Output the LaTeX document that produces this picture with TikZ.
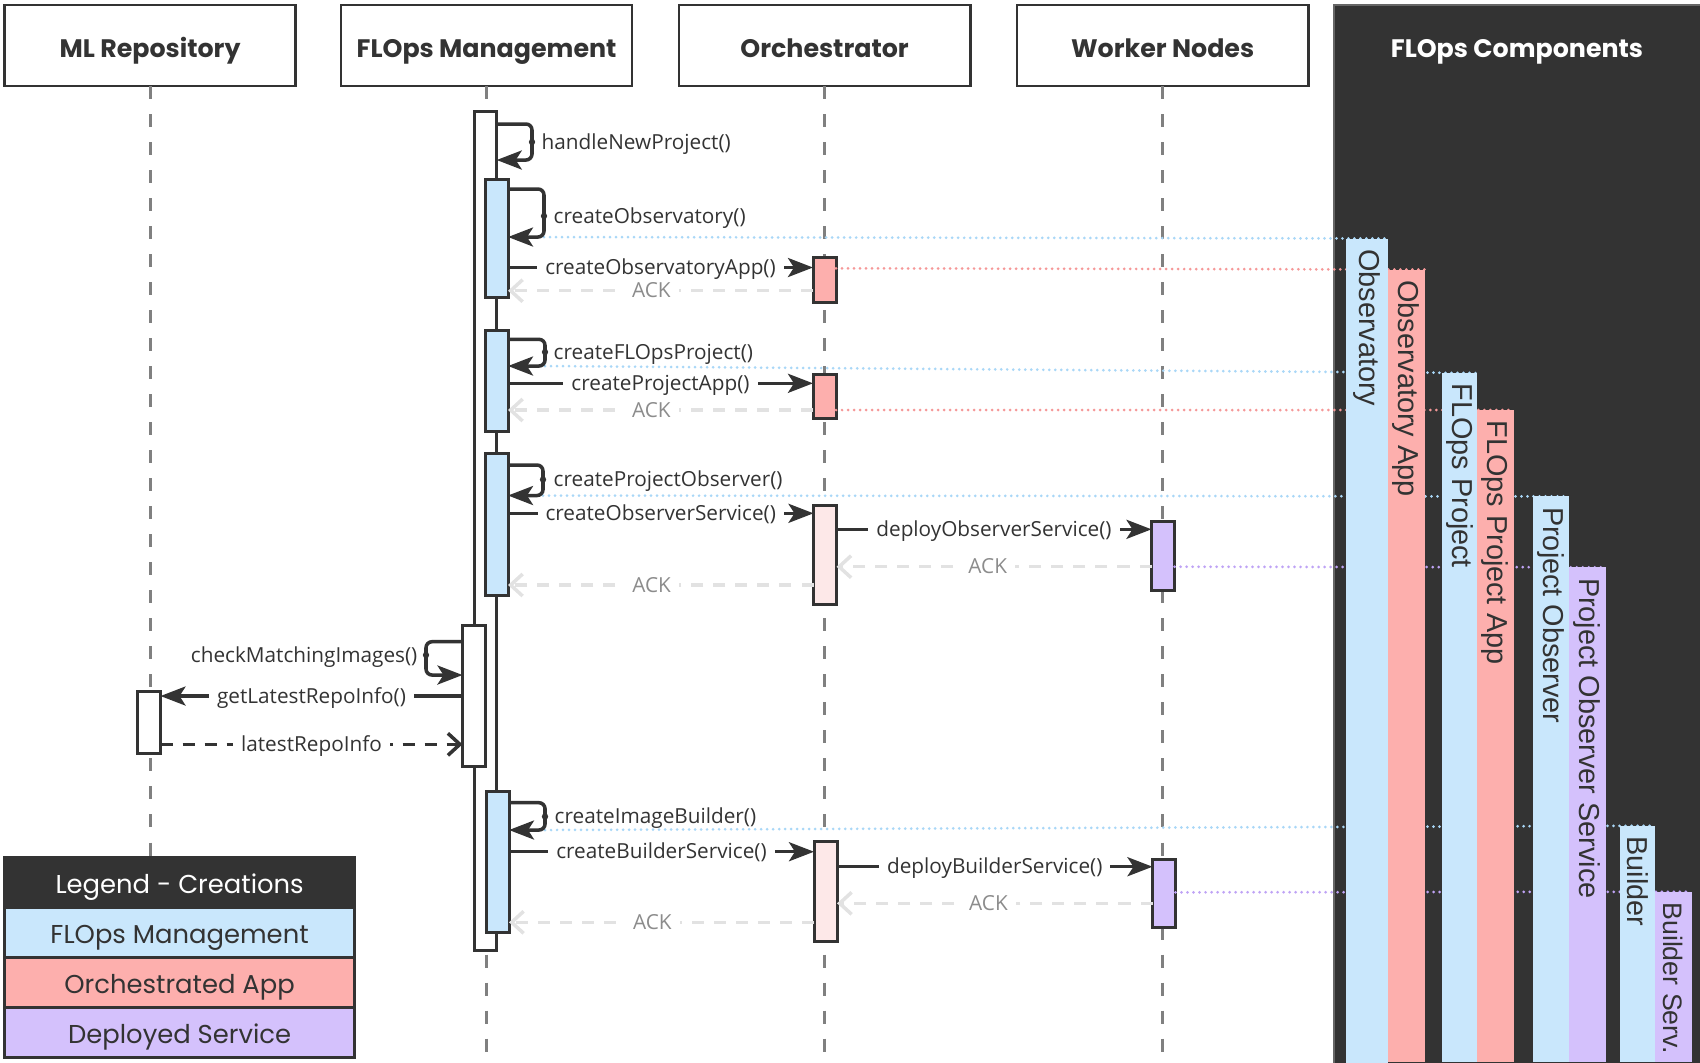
\documentclass[tikz,border=0pt]{standalone}
\usepackage{fontspec}
\setmainfont{Open Sans}
\newfontfamily\headfont{Poppins}
\newfontfamily\barfont{Liberation Sans}
\usetikzlibrary{arrows.meta,positioning}

\definecolor{ink}{HTML}{333333}
\definecolor{mgmtblue}{HTML}{C9E7FC}
\definecolor{appred}{HTML}{FDAFAD}
\definecolor{servpurple}{HTML}{D4C1FC}
\definecolor{orchpink}{HTML}{FDE8E8}
\definecolor{lifegray}{HTML}{808080}
\definecolor{ackgray}{HTML}{E2E2E2}
\definecolor{acktext}{HTML}{8C8C8C}
\definecolor{dotblue}{HTML}{A9D7F7}
\definecolor{dotred}{HTML}{F59898}
\definecolor{dotpurple}{HTML}{BFA3F5}

\tikzset{
  actor/.style={draw=ink, line width=0.75pt, fill=white, anchor=north west,
    minimum width=2.91cm, minimum height=0.81cm, inner sep=0pt, outer sep=0pt,
    text height=6.6pt, text depth=0pt,
    font=\headfont\bfseries\fontsize{7.2}{8}\selectfont, text=ink},
  lifeline/.style={draw=lifegray, line width=0.85pt, dash pattern=on 0.13cm off 0.15cm},
  act/.style={draw=ink, line width=0.85pt, anchor=north west, minimum width=0.225cm,
    inner sep=0pt, outer sep=0pt},
  call/.style={draw=ink, line width=1pt, -{Stealth[length=0.25cm,width=0.19cm,inset=0.06cm]}},
  reply/.style={draw=ink, line width=1pt, dash pattern=on 0.12cm off 0.1cm,
    -{Straight Barb[length=0.12cm,width=0.22cm]}},
  ack/.style={draw=ackgray, line width=1pt, dash pattern=on 0.12cm off 0.1cm,
    -{Straight Barb[length=0.12cm,width=0.22cm]}},
  msglabel/.style={fill=white, inner xsep=0.08cm, inner ysep=0.3pt, text=ink,
    text height=4.1pt, text depth=0pt, font=\fontsize{5.9}{7}\selectfont},
  selflabel/.style={inner sep=0pt, text=ink, text height=4.1pt, text depth=0pt,
    font=\fontsize{5.9}{7}\selectfont},
  acklabel/.style={fill=white, inner xsep=0.08cm, inner ysep=0.3pt, text=acktext,
    text height=4.1pt, text depth=0pt, font=\fontsize{5.9}{7}\selectfont},
  link/.style={line width=0.85pt, line cap=round, dash pattern=on 0pt off 0.06cm},
  bar/.style={anchor=north east, inner sep=0pt, outer sep=0pt},
  barlabel/.style={rotate=-90, anchor=west, inner sep=0pt, text=ink,
    font=\barfont\fontsize{8.2}{9}\selectfont},
  legendrow/.style={draw=ink, line width=0.85pt, minimum width=3.5cm, minimum height=0.5cm,
    inner sep=0pt, outer sep=0pt, text=ink, text height=6.4pt, text depth=0pt,
    font=\headfont\fontsize{7.35}{8}\selectfont},
}

\begin{document}
\begin{tikzpicture}[x=0.01cm, y=-0.01cm]
\useasboundingbox (0,0) rectangle (1700,1062);

% Drawing the FLOps Components panel
\node [fill=ink, draw=black!60, line width=0.4pt, anchor=north west, minimum width=3.66cm,
  minimum height=10.6cm, inner sep=0pt, outer sep=0pt] (panel) at (1334.0,5.0) {};%
\node [font=\headfont\bfseries\fontsize{7.2}{8}\selectfont, text=white,
  text height=6.6pt, text depth=0pt] (paneltitle) at (1517.0,45.5) {FLOps Components};%

% Drawing the participants
\node [actor] (mlrepo) at (4.5,5.0) {ML Repository};%
\node [actor] (mgmt) at (341.0,5.0) {FLOps Management};%
\node [actor] (orch) at (679.0,5.0) {Orchestrator};%
\node [actor] (worker) at (1017.0,5.0) {Worker Nodes};%

% Drawing the lifelines
\draw [lifeline] (mlrepo.south) -- (mlrepo.south |- 0,1062.0);%
\draw [lifeline] (mgmt.south) -- (mgmt.south |- 0,1062.0);%
\draw [lifeline] (orch.south) -- (orch.south |- 0,1062.0);%
\draw [lifeline] (worker.south) -- (worker.south |- 0,1062.0);%

% Marking the tops of the component bars
\coordinate (obsbartop) at (1388.0,238.5);%
\coordinate (obsappbartop) at (1424.5,269.5);%
\coordinate (projbartop) at (1477.0,373.0);%
\coordinate (projappbartop) at (1513.5,410.0);%
\coordinate (pobsbartop) at (1569.0,496.4);%
\coordinate (pobsservbartop) at (1605.5,567.3);%
\coordinate (buildbartop) at (1655.0,825.7);%
\coordinate (buildservbartop) at (1691.5,891.7);%

% Drawing activation boxes
\node [act, fill=white, minimum width=0.227cm, minimum height=8.383cm] (mgmtmain) at (474.0,111.7) {};%
\node [act, fill=mgmtblue, minimum height=1.18cm] (mgmtobs) at (485.5,179.0) {};%
\node [act, fill=mgmtblue, minimum height=1.008cm] (mgmtproj) at (485.5,330.7) {};%
\node [act, fill=mgmtblue, minimum height=1.415cm] (mgmtpobs) at (485.5,453.5) {};%
\node [act, fill=white, minimum height=1.41cm] (mgmtcheck) at (462.5,625.0) {};%
\node [act, fill=mgmtblue, minimum height=1.415cm] (mgmtbuild) at (486.5,791.0) {};%
\node [act, fill=appred, minimum width=0.23cm, minimum height=0.443cm] (orchobsapp) at (813.0,257.7) {};%
\node [act, fill=appred, minimum width=0.23cm, minimum height=0.443cm] (orchprojapp) at (813.0,374.0) {};%
\node [act, fill=orchpink, minimum width=0.23cm, minimum height=0.993cm] (orchpobs) at (813.5,505.0) {};%
\node [act, fill=orchpink, minimum width=0.23cm, minimum height=1.0cm] (orchbuild) at (814.0,841.7) {};%
\node [act, fill=servpurple, minimum width=0.23cm, minimum height=0.683cm] (workpobs) at (1151.5,521.7) {};%
\node [act, fill=servpurple, minimum width=0.23cm, minimum height=0.683cm] (workbuild) at (1152.5,859.0) {};%
\node [act, fill=white, minimum width=0.23cm, minimum height=0.623cm] (mlinfo) at (137.5,691.0) {};%

% Drawing handleNewProject()
\draw [call, rounded corners=0.06cm] (mgmtmain.east |- 0,124.0) -- (532.0,124.0) -- (532.0,160.0) -- (mgmtmain.east |- 0,160.0);%
\fill [ink] (532.0,142.0) circle (0.9pt);%
\node [selflabel, anchor=west] (lblhandle) at (541.0,142.0) {handleNewProject()};%

% Drawing createObservatory()
\coordinate (obsloop) at (544.0,237.0);%
\draw [link, dotblue] (obsloop) -- (obsbartop);%
\draw [call, rounded corners=0.06cm] (mgmtobs.east |- 0,189.0) -- (544.0,189.0) -- (obsloop) -- (mgmtobs.east |- obsloop);%
\fill [ink] (544.0,216.0) circle (0.9pt);%
\node [selflabel, anchor=west] (lblobs) at (553.0,216.0) {createObservatory()};%

% Drawing createObservatoryApp() and its ACK
\draw [link, dotred] (orchobsapp.east |- 0,268.3) -- (obsappbartop);%
\draw [call] (mgmtobs.east |- 0,267.5) -- node [msglabel] (lblobsapp) {createObservatoryApp()} (orchobsapp.west |- 0,267.5);%
\draw [ack] (orchobsapp.west |- 0,290.7) -- node [acklabel, pos=0.53] (ackobsapp) {ACK} (mgmtobs.east |- 0,290.7);%

% Drawing createFLOpsProject()
\coordinate (projloop) at (545.0,366.0);%
\draw [link, dotblue] (projloop) -- (projbartop);%
\draw [call, rounded corners=0.06cm] (mgmtproj.east |- 0,339.3) -- (545.0,339.3) -- (projloop) -- (mgmtproj.east |- projloop);%
\fill [ink] (545.0,352.0) circle (0.9pt);%
\node [selflabel, anchor=west] (lblproj) at (553.0,352.0) {createFLOpsProject()};%

% Drawing createProjectApp() and its ACK
\draw [link, dotred] (orchprojapp.east |- 0,410.0) -- (projappbartop);%
\draw [call] (mgmtproj.east |- 0,383.3) -- node [msglabel] (lblprojapp) {createProjectApp()} (orchprojapp.west |- 0,383.3);%
\draw [ack] (orchprojapp.west |- 0,410.0) -- node [acklabel, pos=0.53] (ackprojapp) {ACK} (mgmtproj.east |- 0,410.0);%

% Drawing createProjectObserver()
\coordinate (pobsloop) at (543.0,495.5);%
\draw [link, dotblue] (pobsloop) -- (pobsbartop);%
\draw [call, rounded corners=0.06cm] (mgmtpobs.east |- 0,465.0) -- (543.0,465.0) -- (pobsloop) -- (mgmtpobs.east |- pobsloop);%
\fill [ink] (543.0,479.5) circle (0.9pt);%
\node [selflabel, anchor=west] (lblpobs) at (553.0,479.5) {createProjectObserver()};%

% Drawing createObserverService() and deployObserverService()
\draw [call] (mgmtpobs.east |- 0,513.3) -- node [msglabel] (lblpobsserv) {createObserverService()} (orchpobs.west |- 0,513.3);%
\draw [call] (orchpobs.east |- 0,529.3) -- node [msglabel] (lbldeploypobs) {deployObserverService()} (workpobs.west |- 0,529.3);%
\draw [link, dotpurple] (workpobs.east |- 0,566.7) -- (pobsservbartop);%
\draw [ack] (workpobs.west |- 0,566.7) -- node [acklabel, pos=0.52] (ackdeploypobs) {ACK} (orchpobs.east |- 0,566.7);%
\draw [ack] (orchpobs.west |- 0,585.0) -- node [acklabel, pos=0.53] (ackpobsserv) {ACK} (mgmtpobs.east |- 0,585.0);%

% Drawing checkMatchingImages()
\draw [call, rounded corners=0.06cm] (mgmtcheck.west |- 0,641.7) -- (426.0,641.7) -- (426.0,675.0) -- (mgmtcheck.west |- 0,675.0);%
\fill [ink] (426.0,655.0) circle (0.9pt);%
\node [selflabel, anchor=east] (lblcheck) at (418.0,655.0) {checkMatchingImages()};%

% Drawing getLatestRepoInfo() and latestRepoInfo
\draw [call] (mgmtcheck.west |- 0,696.0) -- node [msglabel] (lblgetrepo) {getLatestRepoInfo()} (mlinfo.east |- 0,696.0);%
\draw [reply] (mlinfo.east |- 0,744.3) -- node [msglabel, pos=0.5] (lblrepo) {latestRepoInfo} (mgmtcheck.west |- 0,744.3);%

% Drawing createImageBuilder()
\coordinate (buildloop) at (545.0,830.0);%
\draw [link, dotblue] (buildloop) -- (buildbartop);%
\draw [call, rounded corners=0.06cm] (mgmtbuild.east |- 0,802.7) -- (545.0,802.7) -- (buildloop) -- (mgmtbuild.east |- buildloop);%
\fill [ink] (545.0,816.5) circle (0.9pt);%
\node [selflabel, anchor=west] (lblbuild) at (554.0,816.5) {createImageBuilder()};%

% Drawing createBuilderService() and deployBuilderService()
\draw [call] (mgmtbuild.east |- 0,851.7) -- node [msglabel] (lblbuildserv) {createBuilderService()} (orchbuild.west |- 0,851.7);%
\draw [call] (orchbuild.east |- 0,866.7) -- node [msglabel] (lbldeploybuild) {deployBuilderService()} (workbuild.west |- 0,866.7);%
\draw [link, dotpurple] (workbuild.east |- 0,892.3) -- (buildservbartop);%
\draw [ack] (workbuild.west |- 0,903.3) -- node [acklabel, pos=0.52] (ackdeploybuild) {ACK} (orchbuild.east |- 0,903.3);%
\draw [ack] (orchbuild.west |- 0,922.3) -- node [acklabel, pos=0.53] (ackbuildserv) {ACK} (mgmtbuild.east |- 0,922.3);%

% Drawing the component bars
\node [bar, fill=mgmtblue, minimum width=0.42cm, minimum height=8.235cm] (obsbar) at (obsbartop) {};%
\node [barlabel] (obsbarlabel) at ([yshift=-0.1cm]obsbar.north) {Observatory};%
\node [bar, fill=appred, minimum width=0.365cm, minimum height=7.925cm] (obsappbar) at (obsappbartop) {};%
\node [barlabel] (obsappbarlabel) at ([yshift=-0.1cm]obsappbar.north) {Observatory App};%
\node [bar, fill=mgmtblue, minimum width=0.35cm, minimum height=6.89cm] (projbar) at (projbartop) {};%
\node [barlabel] (projbarlabel) at ([yshift=-0.1cm]projbar.north) {FLOps Project};%
\node [bar, fill=appred, minimum width=0.365cm, minimum height=6.52cm] (projappbar) at (projappbartop) {};%
\node [barlabel] (projappbarlabel) at ([yshift=-0.1cm]projappbar.north) {FLOps Project App};%
\node [bar, fill=mgmtblue, minimum width=0.36cm, minimum height=5.656cm] (pobsbar) at (pobsbartop) {};%
\node [barlabel] (pobsbarlabel) at ([yshift=-0.1cm]pobsbar.north) {Project Observer};%
\node [bar, fill=servpurple, minimum width=0.365cm, minimum height=4.947cm] (pobsservbar) at (pobsservbartop) {};%
\node [barlabel] (pobsservbarlabel) at ([yshift=-0.1cm]pobsservbar.north) {Project Observer Service};%
\node [bar, fill=mgmtblue, minimum width=0.35cm, minimum height=2.363cm] (buildbar) at (buildbartop) {};%
\node [barlabel] (buildbarlabel) at ([yshift=-0.1cm]buildbar.north) {Builder};%
\node [bar, fill=servpurple, minimum width=0.365cm, minimum height=1.703cm] (buildservbar) at (buildservbartop) {};%
\node [barlabel, font=\barfont\fontsize{7.6}{9}\selectfont] (buildservbarlabel) at ([yshift=-0.1cm]buildservbar.north) {Builder Serv.};%

% Drawing the legend
\node [legendrow, fill=ink, text=white, anchor=north west] (legtitle) at (4.5,857.5) {Legend - Creations};%
\node [legendrow, fill=mgmtblue, below=0pt of legtitle] (legmgmt) {FLOps Management};%
\node [legendrow, fill=appred, below=0pt of legmgmt] (legapp) {Orchestrated App};%
\node [legendrow, fill=servpurple, below=0pt of legapp] (legserv) {Deployed Service};%
\end{tikzpicture}
\end{document}
